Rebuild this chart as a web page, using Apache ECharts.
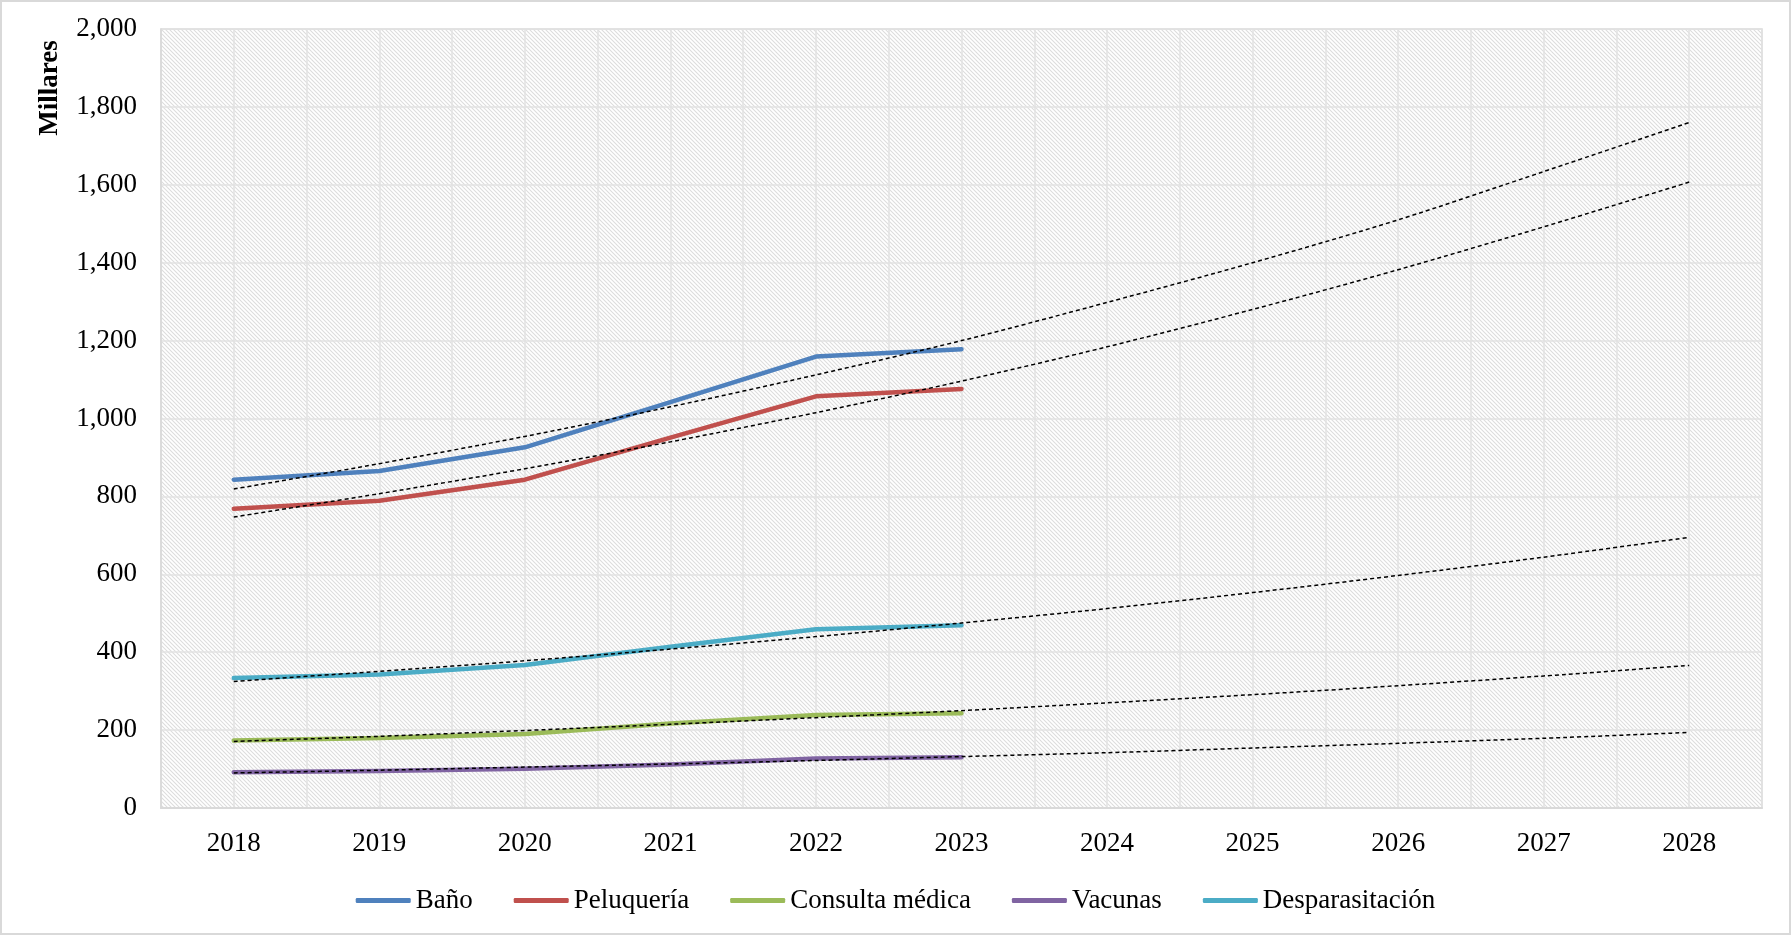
<!DOCTYPE html>
<html>
<head>
<meta charset="utf-8">
<script src="https://cdn.jsdelivr.net/npm/echarts@6/dist/echarts.min.js"></script>
<style>
html,body{margin:0;padding:0;background:#fff;}
#chart{width:1791px;height:935px;}
</style>
</head>
<body>
<div id="chart"></div>
<script>
const years = ['2018','2019','2020','2021','2022','2023','2024','2025','2026','2027','2028'];
const yTicks = [0,200,400,600,800,1000,1200,1400,1600,1800,2000];

const bano = [843, 865, 926, 1042, 1159, 1178];
const peluqueria = [768, 789, 843, 951, 1057, 1076];
const consulta = [173, 180, 190, 217, 239, 243];
const vacunas = [92, 95, 101, 112, 127, 130];
const desparasitacion = [334, 343, 367, 414, 459, 469];

const banoTrend = [819, 884, 954, 1030, 1112, 1200, 1298, 1400, 1510, 1634, 1760];
const peluqueriaTrend = [747, 807, 871, 940, 1015, 1096, 1184, 1280, 1382, 1492, 1607];
const consultaTrend = [171, 184, 199, 215, 232, 250, 270, 291, 314, 339, 366];
const vacunasTrend = [90, 97, 105, 113, 122, 132, 142, 154, 166, 179, 194];
const desparasitacionTrend = [325, 351, 378, 408, 440, 475, 512, 553, 597, 644, 695];

const names = ['Baño','Peluquería','Consulta médica','Vacunas','Desparasitación'];
const colors = ['#4F81BD','#C0504D','#9BBB59','#8064A2','#4BACC6'];
const mainData = [bano, peluqueria, consulta, vacunas, desparasitacion];
const trendData = [banoTrend, peluqueriaTrend, consultaTrend, vacunasTrend, desparasitacionTrend];

// hatch pattern
const tile = document.createElement('canvas');
tile.width = 8; tile.height = 8;
const ctx = tile.getContext('2d');
ctx.fillStyle = '#ffffff';
ctx.fillRect(0,0,8,8);
ctx.strokeStyle = '#dcdcdc';
ctx.lineWidth = 1.1;
for (let c = -12; c <= 12; c += 4) {
  ctx.beginPath();
  ctx.moveTo(-2, c - 2);
  ctx.lineTo(10, c + 10);
  ctx.stroke();
}

const FONT = 'Liberation Serif';
const chart = echarts.init(document.getElementById('chart'), null, {renderer:'canvas'});

const series = [];
names.forEach((n, i) => {
  series.push({
    name: n, type: 'line', xAxisIndex: 0, yAxisIndex: 0,
    data: mainData[i], symbol: 'none', smooth: false,
    lineStyle: {color: colors[i], width: 4.5, cap: 'round', join: 'round'},
    itemStyle: {color: colors[i]},
    z: 3
  });
});
names.forEach((n, i) => {
  series.push({
    name: n + ' tendencia', type: 'line', xAxisIndex: 0, yAxisIndex: 0,
    data: trendData[i], symbol: 'none', smooth: 0.3,
    lineStyle: {color: '#000000', width: 1.5, type: [4, 3]},
    z: 4, silent: true
  });
});

chart.setOption({
  backgroundColor: '#ffffff',
  animation: false,
  grid: {
    left: 161, right: 29, top: 29, bottom: 127,
    show: true,
    backgroundColor: {image: tile, repeat: 'repeat'},
    borderColor: '#d9d9d9', borderWidth: 1.5
  },
  legend: {
    data: names.map((n, i) => ({name: n, icon: 'roundRect', itemStyle: {color: colors[i]}})),
    top: 882, left: 'center',
    itemWidth: 55, itemHeight: 5, itemGap: 41,
    textStyle: {fontFamily: FONT, fontSize: 27, color: '#000'}
  },
  xAxis: [
    {
      type: 'category', data: years, boundaryGap: true,
      axisLine: {show: true, lineStyle: {color: '#d9d9d9', width: 2}},
      axisTick: {show: false},
      splitLine: {show: false},
      axisLabel: {fontFamily: FONT, fontSize: 27, color: '#000', margin: 22}
    },
    {
      type: 'value', min: 0, max: 22, interval: 1, position: 'bottom',
      axisLine: {show: false}, axisTick: {show: false}, axisLabel: {show: false},
      splitLine: {show: true, lineStyle: {color: '#e2e2e2', width: 1.5}}
    }
  ],
  yAxis: {
    type: 'value', min: yTicks[0], max: yTicks[yTicks.length-1], interval: 200,
    axisLine: {show: true, lineStyle: {color: '#d9d9d9', width: 1.5}},
    axisTick: {show: false},
    splitLine: {show: true, lineStyle: {color: '#e2e2e2', width: 1.5}},
    axisLabel: {
      fontFamily: FONT, fontSize: 27, color: '#000', margin: 24,
      formatter: v => v.toLocaleString('en-US')
    }
  },
  graphic: [
    {
      type: 'text', x: 50, y: 88, rotation: Math.PI / 2, silent: true,
      style: {text: 'Millares', font: 'bold 27px "Liberation Serif"', fill: '#000', align: 'center', verticalAlign: 'middle'}
    },
    {
      type: 'rect', silent: true, z: 100,
      shape: {x: 1, y: 1, width: 1789, height: 933},
      style: {fill: 'none', stroke: '#d9d9d9', lineWidth: 2}
    }
  ],
  series: series
});
</script>
</body>
</html>
